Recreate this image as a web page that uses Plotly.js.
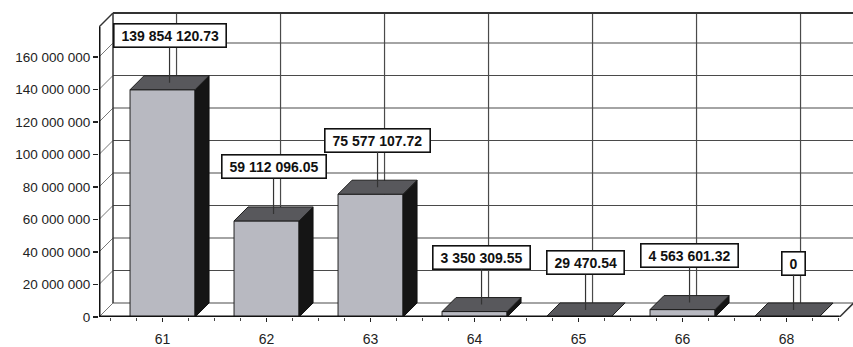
<!DOCTYPE html>
<html>
<head>
<meta charset="utf-8">
<script src="https://cdn.plot.ly/plotly-3.0.1.min.js"></script>
<style>
  html, body { margin: 0; padding: 0; background: #ffffff; }
  #chart { width: 853px; height: 347px; }
</style>
</head>
<body>
<div id="chart"></div>
<script>
// Categories and amounts per category
const categories = ['61', '62', '63', '64', '65', '66', '68'];
const amounts = [139854120.73, 59112096.05, 75577107.72, 3350309.55, 29470.54, 4563601.32, 0];
const yTickValues = [0, 20000000, 40000000, 60000000, 80000000, 100000000, 120000000, 140000000, 160000000];

// Pixel geometry of the drawing
const PX_X = 104;            // px per category
const PX_Y = 1.625e-6;       // px per unit of amount
const DEPTH = 14;            // px depth of the 3D effect
const X0 = -0.611;           // front-left corner (y axis)
const XR = 6.51;             // front-right corner of the floor
const X1 = X0 + 754 / PX_X;  // right edge of the plot area
const YMAX = 307 / PX_Y;     // top of the plot area
const WT = 304 / PX_Y;       // top edge of the back wall
const DX = DEPTH / PX_X;
const DY = DEPTH / PX_Y;
const BAR_W = 0.625;

function spaced(intStr) {
  return intStr.replace(/\B(?=(\d{3})+(?!\d))/g, ' ');
}
function fmtAmount(v) {
  if (v === 0) return '0';
  const p = v.toFixed(2).split('.');
  return spaced(p[0]) + '.' + p[1];
}

const xs = categories.map((c, i) => i);

// Front faces
const front = {
  type: 'bar', x: xs, y: amounts, width: BAR_W,
  marker: { color: '#b8b9c1', line: { color: '#222', width: 1 } },
  hoverinfo: 'skip', showlegend: false
};

// Top and side faces built from the same amounts
const topX = [], topY = [], sideX = [], sideY = [];
amounts.forEach((v, i) => {
  const l = i - BAR_W / 2, r = i + BAR_W / 2;
  topX.push(l, r, r + DX, l + DX, l, null);
  topY.push(v, v, v + DY, v + DY, v, null);
  sideX.push(r, r + DX, r + DX, r, r, null);
  sideY.push(0, DY, v + DY, v, 0, null);
});
const topFace = {
  type: 'scatter', mode: 'lines', x: topX, y: topY, fill: 'toself',
  fillcolor: '#58585c', line: { color: '#1e1e1e', width: 1 },
  hoverinfo: 'skip', showlegend: false
};
const sideFace = {
  type: 'scatter', mode: 'lines', x: sideX, y: sideY, fill: 'toself',
  fillcolor: '#151515', line: { color: '#111', width: 1 },
  hoverinfo: 'skip', showlegend: false
};

// Walls, floor and gridlines
const shapes = [];
const gridLine = { color: '#4a4a4a', width: 1.2 };
yTickValues.forEach(v => {
  shapes.push({ type: 'line', layer: 'below', xref: 'x', yref: 'y',
    x0: X0 + DX, x1: X1 + 1, y0: v + DY, y1: v + DY, line: gridLine });
  shapes.push({ type: 'line', layer: 'below', xref: 'x', yref: 'y',
    x0: X0, x1: X0 + DX, y0: v, y1: v + DY, line: { color: '#777', width: 1 } });
});
xs.forEach(i => {
  shapes.push({ type: 'line', layer: 'below', xref: 'x', yref: 'y',
    x0: i + DX, x1: i + DX, y0: DY, y1: WT, line: gridLine });
});
// back wall left edge, top edge, left wall top diagonal, floor right edge
shapes.push({ type: 'line', layer: 'below', xref: 'x', yref: 'y',
  x0: X0 + DX, x1: X0 + DX, y0: DY, y1: WT, line: { color: '#333', width: 1.5 } });
shapes.push({ type: 'line', layer: 'below', xref: 'x', yref: 'y',
  x0: X0 + DX, x1: X1 + 1, y0: WT, y1: WT, line: { color: '#333', width: 2 } });
shapes.push({ type: 'line', layer: 'below', xref: 'x', yref: 'y',
  x0: X0, x1: X0 + DX, y0: WT - DY, y1: WT, line: { color: '#333', width: 1.5 } });
shapes.push({ type: 'line', layer: 'below', xref: 'x', yref: 'y',
  x0: XR, x1: XR + DX, y0: 0, y1: DY, line: { color: '#333', width: 1.5 } });
// front axes
shapes.push({ type: 'line', layer: 'above', xref: 'x', yref: 'y',
  x0: X0, x1: X0, y0: 0, y1: WT - DY, line: { color: '#111', width: 3 } });
shapes.push({ type: 'line', layer: 'above', xref: 'x', yref: 'y',
  x0: X0, x1: XR, y0: 0, y1: 0, line: { color: '#111', width: 3 } });

// Value labels with leader lines
const NB = '\u00a0';
const annotations = amounts.map((v, i) => ({
  x: i + DX / 2, y: v + DY / 2, xref: 'x', yref: 'y',
  text: NB + fmtAmount(v) + NB,
  showarrow: true, arrowhead: 0, arrowwidth: 1.2, arrowcolor: '#333',
  ax: 0, ay: -47, standoff: 0,
  bgcolor: '#ffffff', bordercolor: '#111', borderwidth: 1.6, borderpad: 3,
  font: { family: '"Liberation Sans", Arial, sans-serif',
          size: 14, color: '#111', weight: 'bold' }
}));

const layout = {
  width: 853, height: 347,
  margin: { l: 99, r: 0, t: 10, b: 30, pad: 0 },
  paper_bgcolor: '#ffffff', plot_bgcolor: '#ffffff',
  font: { family: '"Liberation Sans", Arial, sans-serif', size: 13, color: '#222' },
  showlegend: false, bargap: 0,
  xaxis: {
    range: [X0, X1], showgrid: false, zeroline: false, showline: false,
    tickmode: 'array', tickvals: xs, ticktext: categories,
    ticks: 'outside', ticklen: 4, tickcolor: '#222', tickwidth: 1,
    ticklabelstandoff: 5, tickfont: { size: 14 },
    minor: { tickmode: 'linear', tick0: 0, dtick: 0.25, ticks: 'outside', ticklen: 3, tickcolor: '#444', showgrid: false }
  },
  yaxis: {
    range: [0, YMAX], showgrid: false, zeroline: false, showline: false,
    tickmode: 'array', tickvals: yTickValues, ticktext: yTickValues.map(v => spaced(String(v))),
    ticks: 'outside', ticklen: 5, tickcolor: '#222', tickwidth: 1.5,
    tickfont: { size: 13.5 }
  },
  shapes: shapes,
  annotations: annotations
};

Plotly.newPlot('chart', [front, sideFace, topFace], layout, { staticPlot: true, displayModeBar: false });
</script>
</body>
</html>
